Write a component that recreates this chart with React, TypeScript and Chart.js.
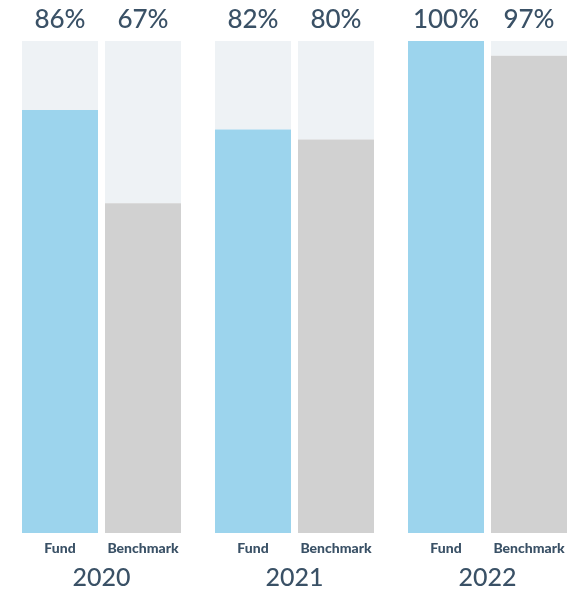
import React, { useEffect, useRef } from "react";
import { Chart, registerables } from "chart.js";

Chart.register(...registerables);

const years = ["2020", "2021", "2022"];
const seriesNames = ["Fund", "Benchmark"];
const fundValues = [86, 82, 100];
const benchmarkValues = [67, 80, 97];
const totalValue = 100;

const FUND_COLOR = "#9cd4ed";
const BENCH_COLOR = "#d1d1d1";
const REST_COLOR = "#eef2f5";
const TEXT_COLOR = "#3a5166";
const FONT = "Lato, 'Open Sans', sans-serif";

const labelPlugin = {
  id: "labelPlugin",
  afterDatasetsDraw(chart: any) {
    const { ctx, chartArea } = chart;
    ctx.save();
    ctx.fillStyle = TEXT_COLOR;
    ctx.textAlign = "center";
    ctx.textBaseline = "alphabetic";
    const fg = [
      { idx: 0, values: fundValues, name: seriesNames[0] },
      { idx: 2, values: benchmarkValues, name: seriesNames[1] },
    ];
    fg.forEach((s) => {
      const meta = chart.getDatasetMeta(s.idx);
      meta.data.forEach((bar: any, j: number) => {
        ctx.font = `500 26px ${FONT}`;
        ctx.fillText(`${s.values[j]}%`, bar.x, chartArea.top - 13.5);
        ctx.font = `900 14px ${FONT}`;
        ctx.fillText(s.name, bar.x, chartArea.bottom + 20);
      });
    });
    const xs = chart.scales.x;
    ctx.font = `500 25px ${FONT}`;
    years.forEach((y, i) => {
      ctx.fillText(y, xs.getPixelForValue(i), chartArea.bottom + 53);
    });
    ctx.restore();
  },
};

export default function App() {
  const ref = useRef<HTMLCanvasElement>(null);
  useEffect(() => {
    if (!ref.current) return;
    const step = 193;
    const firstCenter = 101.5;
    const width = 581;
    const chart = new Chart(ref.current, {
      type: "bar",
      data: {
        datasets: [
          {
            label: "Fund",
            data: fundValues.map((v, i) => ({ x: i, y: v })),
            backgroundColor: FUND_COLOR,
            stack: "fund",
          },
          {
            label: "Fund rest",
            data: fundValues.map((v, i) => ({ x: i, y: totalValue - v })),
            backgroundColor: REST_COLOR,
            stack: "fund",
          },
          {
            label: "Benchmark",
            data: benchmarkValues.map((v, i) => ({ x: i, y: v })),
            backgroundColor: BENCH_COLOR,
            stack: "bench",
          },
          {
            label: "Benchmark rest",
            data: benchmarkValues.map((v, i) => ({ x: i, y: totalValue - v })),
            backgroundColor: REST_COLOR,
            stack: "bench",
          },
        ] as any,
      },
      options: {
        responsive: false,
        animation: false,
        layout: { padding: { top: 41, bottom: 60, left: 0, right: 0 } },
        datasets: {
          bar: { categoryPercentage: 0.86, barPercentage: 0.9157, borderWidth: 0 },
        } as any,
        plugins: { legend: { display: false }, tooltip: { enabled: false } },
        scales: {
          x: {
            type: "linear",
            display: false,
            offset: false,
            min: -firstCenter / step,
            max: (width - firstCenter) / step,
            afterBuildTicks: (scale: any) => {
              scale.ticks = years.map((_, i) => ({ value: i }));
            },
          },
          y: {
            display: false,
            stacked: true,
            min: 0,
            max: totalValue,
          },
        },
      },
      plugins: [labelPlugin],
    });
    return () => chart.destroy();
  }, []);
  return (
    <div style={{ position: "absolute", left: 0, top: 0, width: 581, height: 593, background: "#fff" }}>
      <canvas ref={ref} width={581} height={593} style={{ display: "block" }} />
    </div>
  );
}
